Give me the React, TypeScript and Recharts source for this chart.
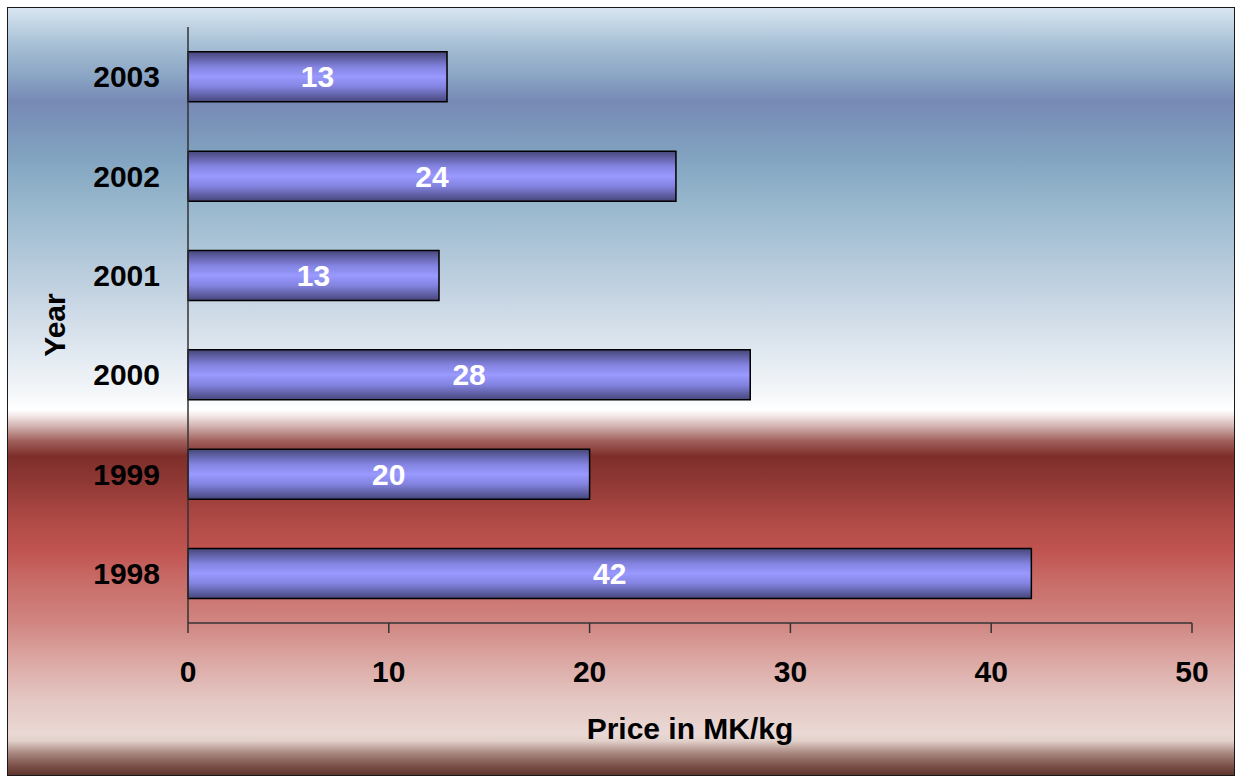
import React from 'react';
import { BarChart, Bar, XAxis, YAxis, LabelList } from 'recharts';

// Price per year (bars drawn oldest at the bottom)
const years = ['1998', '1999', '2000', '2001', '2002', '2003'];
const prices = [42, 20, 28, 12.5, 24.3, 12.9];
const priceTicks = [0, 10, 20, 30, 40, 50];

const data = years.map((year, i) => ({ year, price: prices[i] }));

const FONT = '"Liberation Sans", Arial, sans-serif';

const background = `linear-gradient(to bottom,
  #d9e6f1 0px,
  #abc3d8 33px,
  #8aa5c4 68px,
  #7789b5 93px,
  #7a93b9 115px,
  #83a5c1 153px,
  #96b6cc 193px,
  #afc6d8 243px,
  #c8d6e4 293px,
  #e0e8f0 343px,
  #f3f6f9 383px,
  #ffffff 402px,
  #f4eceb 407px,
  #d3b3b1 418px,
  #a0605c 433px,
  #7e2e2a 448px,
  #8f3834 473px,
  #b04a46 513px,
  #c05450 543px,
  #c86c68 573px,
  #d08480 613px,
  #dca8a4 653px,
  #e4c8c4 693px,
  #ead8d4 726px,
  #e2d0ca 733px,
  #a88880 745px,
  #7a5048 758px,
  #5a3028 769px)`;

const YearLabel = ({ viewBox }: any) => {
  const x = viewBox.x + 27;
  const y = viewBox.y + viewBox.height / 2;
  return (
    <text
      x={x}
      y={y}
      transform={`rotate(-90, ${x}, ${y})`}
      textAnchor="middle"
      dominantBaseline="central"
      fontFamily={FONT}
      fontWeight="bold"
      fontSize={30}
      fill="#000"
    >
      Year
    </text>
  );
};

const PriceLabel = ({ viewBox }: any) => (
  <text
    x={viewBox.x + viewBox.width / 2}
    y={viewBox.y + 116}
    textAnchor="middle"
    fontFamily={FONT}
    fontWeight="bold"
    fontSize={30}
    fill="#000"
  >
    Price in MK/kg
  </text>
);

const tickStyle = { fill: '#000', fontFamily: FONT, fontWeight: 'bold', fontSize: 30 };

export default function App() {
  return (
    <div>
      <style>{'body{margin:0;overflow:hidden}'}</style>
      <div
        style={{
          position: 'relative',
          margin: '7px 0 0 7px',
          width: 1228,
          height: 769,
          boxSizing: 'border-box',
          border: '1px solid #1a1a1a',
          background,
        }}
      >
        <div style={{ position: 'absolute', left: -1, top: -1 }}>
          <BarChart
            width={1228}
            height={769}
            data={data}
            layout="vertical"
            margin={{ top: 20, right: 43, bottom: 33, left: 20 }}
            barCategoryGap="25%"
          >
            <defs>
              <linearGradient id="barFill" x1="0" y1="0" x2="0" y2="1">
                <stop offset="0%" stopColor="#46467a" />
                <stop offset="30%" stopColor="#8383e0" />
                <stop offset="50%" stopColor="#9999ff" />
                <stop offset="70%" stopColor="#8383e0" />
                <stop offset="100%" stopColor="#46467a" />
              </linearGradient>
            </defs>
            <XAxis
              type="number"
              domain={[0, 50]}
              ticks={priceTicks}
              height={120}
              tickSize={10}
              tickMargin={28}
              tick={tickStyle}
              axisLine={{ stroke: '#333', strokeWidth: 1.5 }}
              tickLine={{ stroke: '#333', strokeWidth: 1.5 }}
              label={PriceLabel}
            />
            <YAxis
              type="category"
              dataKey="year"
              reversed
              width={161}
              tickSize={0}
              tickMargin={28}
              tickLine={false}
              tick={tickStyle}
              axisLine={{ stroke: '#333', strokeWidth: 1.5 }}
              label={YearLabel}
            />
            <Bar
              dataKey="price"
              fill="url(#barFill)"
              stroke="#000"
              strokeWidth={1.5}
              isAnimationActive={false}
            >
              <LabelList
                dataKey="price"
                position="center"
                formatter={(v: any) => Math.round(Number(v))}
                fill="#fff"
                fontFamily={FONT}
                fontWeight="bold"
                fontSize={30}
              />
            </Bar>
          </BarChart>
        </div>
      </div>
    </div>
  );
}
